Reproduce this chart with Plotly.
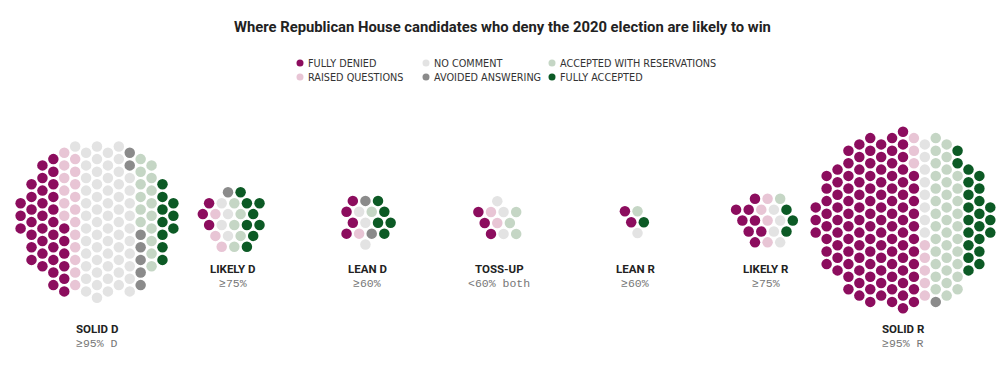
import numpy as np
import plotly.graph_objects as go

# ---------------- data ----------------
categories = ["FULLY DENIED", "RAISED QUESTIONS", "NO COMMENT",
              "AVOIDED ANSWERING", "ACCEPTED WITH RESERVATIONS", "FULLY ACCEPTED"]
groups = ["SOLID D", "LIKELY D", "LEAN D", "TOSS-UP", "LEAN R", "LIKELY R", "SOLID R"]
group_sub = ["≥95% D", "≥75%", "≥60%", "<60% both", "≥60%", "≥75%", "≥95% R"]

fully_denied = [36, 3, 4, 3, 2, 8, 112]
raised_questions = [17, 3, 1, 2, 0, 4, 8]
no_comment = [60, 4, 3, 3, 1, 4, 8]
avoided_answering = [7, 1, 2, 0, 0, 0, 1]
accepted_with_reservations = [15, 5, 1, 3, 1, 1, 36]
fully_accepted = [10, 8, 5, 0, 1, 3, 22]

series = [fully_denied, raised_questions, no_comment,
          avoided_answering, accepted_with_reservations, fully_accepted]

# ---------------- style / layout ----------------
colors = ["#8c0d5e", "#e8c5d5", "#e3e3e3", "#8b8b8b", "#c5d6c5", "#0c5a25"]
group_cx = [97, 233, 367, 499, 635, 766, 903]
group_cy = 220
vertical_cols = [True, False, False, False, False, False, True]
label_big = [True, False, False, False, False, False, True]
D = 12.6
DOT = 10.5
W, H = 1000, 379


def hex_layout(n, d, vertical):
    K = int(np.sqrt(n)) + 4
    pts = []
    for i in range(-K, K + 1):
        for j in range(-K, K + 1):
            if vertical:
                x = i * d * np.sqrt(3) / 2
                y = j * d + (i % 2) * d / 2
            else:
                x = j * d + (i % 2) * d / 2
                y = i * d * np.sqrt(3) / 2
            pts.append((x, y))
    pts = np.array(pts)
    r = np.round(np.hypot(pts[:, 0], pts[:, 1]), 5)
    ang = np.arctan2(pts[:, 1], pts[:, 0])
    order = np.lexsort((ang, r))
    sel = pts[order[:n]].copy()
    sel -= sel.mean(axis=0)
    return sel


xs = [[] for _ in categories]
ys = [[] for _ in categories]
for g in range(len(groups)):
    counts = [s[g] for s in series]
    n = sum(counts)
    p = hex_layout(n, D, vertical_cols[g])
    order = np.lexsort((-p[:, 1], np.round(p[:, 0], 3)))
    p = p[order]
    k = 0
    for c, cnt in enumerate(counts):
        for _ in range(cnt):
            xs[c].append(group_cx[g] + p[k, 0])
            ys[c].append(group_cy + p[k, 1])
            k += 1

fig = go.Figure()
for c, name in enumerate(categories):
    fig.add_trace(go.Scatter(
        x=xs[c], y=ys[c], mode="markers", name=name, showlegend=False,
        hoverinfo="skip",
        marker=dict(size=DOT, color=colors[c], line=dict(width=0))))

# custom legend
leg_x = [300, 426, 552]
leg_y = [63, 77]
annotations = []
lx, ly, lc = [], [], []
for c, name in enumerate(categories):
    col = c // 2
    row = c % 2
    lx.append(leg_x[col])
    ly.append(leg_y[row])
    lc.append(colors[c])
    annotations.append(dict(
        x=leg_x[col] + 6, y=leg_y[row], xref="x", yref="y", text=name,
        showarrow=False, xanchor="left", yanchor="middle",
        font=dict(family="DejaVu Sans", size=9.7, color="#333333")))
fig.add_trace(go.Scatter(x=lx, y=ly, mode="markers", showlegend=False,
                         hoverinfo="skip",
                         marker=dict(size=7, color=lc, line=dict(width=0))))

# title
annotations.append(dict(
    x=502, y=27, xref="x", yref="y", showarrow=False,
    text="<b>Where Republican House candidates who deny the 2020 election are likely to win</b>",
    font=dict(family="Roboto", size=14.8, color="#222222"),
    xanchor="center", yanchor="middle"))

# group labels
for g, name in enumerate(groups):
    y1, y2 = (329, 343) if label_big[g] else (269, 283)
    annotations.append(dict(
        x=group_cx[g], y=y1, xref="x", yref="y", showarrow=False,
        text="<b>" + name + "</b>",
        font=dict(family="Roboto", size=11.5, color="#222222"),
        xanchor="center", yanchor="middle"))
    annotations.append(dict(
        x=group_cx[g], y=y2, xref="x", yref="y", showarrow=False,
        text=group_sub[g],
        font=dict(family="Liberation Mono", size=11.5, color="#777777"),
        xanchor="center", yanchor="middle"))

fig.update_layout(
    width=W, height=H,
    margin=dict(l=0, r=0, t=0, b=0),
    paper_bgcolor="white", plot_bgcolor="white",
    xaxis=dict(range=[0, W], visible=False, fixedrange=True),
    yaxis=dict(range=[H, 0], visible=False, fixedrange=True),
    annotations=annotations,
)

fig.write_html("out.html",
               config={"displayModeBar": False},
               post_script="document.body.style.margin='0';document.body.style.overflow='hidden';")
